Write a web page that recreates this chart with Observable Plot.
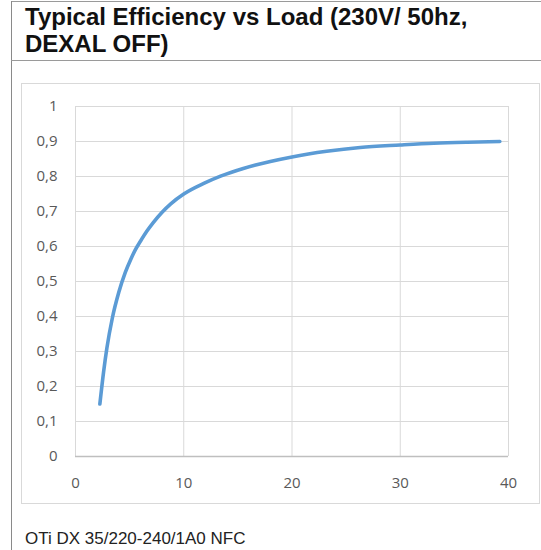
<!DOCTYPE html>
<html>
<head>
<meta charset="utf-8">
<script src="https://cdn.jsdelivr.net/npm/d3@7"></script>
<script src="https://cdn.jsdelivr.net/npm/@observablehq/plot@0.6"></script>
<style>
  body { margin: 0; background: #fff; }
  #page { position: relative; width: 541px; height: 550px; overflow: hidden; background: #fff; }
  #frameTop { position: absolute; left: 11px; right: 0; top: 1px; border-top: 1px solid #9a9a9a; }
  #frameLeft { position: absolute; left: 11px; top: 1px; bottom: 0; border-left: 1px solid #8a8a8a; }
  #sep { position: absolute; left: 11px; right: 0; top: 60px; border-top: 1px solid #9a9a9a; }
  #title { position: absolute; left: 25px; top: 3px; margin: 0; font: bold 24px/27px "Liberation Sans", Arial, sans-serif; color: #111; white-space: nowrap; }
  #box { position: absolute; left: 21px; top: 83px; width: 517px; height: 419px; border: 1px solid #d9d9d9; }
  #chart { position: absolute; left: 21px; top: 83px; }
  #caption { position: absolute; left: 25px; top: 529px; margin: 0; font: 17px/20px "Liberation Sans", Arial, sans-serif; color: #222; white-space: nowrap; }
</style>
</head>
<body>
<div id="page">
  <div id="frameTop"></div>
  <div id="frameLeft"></div>
  <div id="title">Typical Efficiency vs Load (230V/ 50hz,<br>DEXAL OFF)</div>
  <div id="sep"></div>
  <div id="box"></div>
  <div id="chart"></div>
  <div id="caption">OTi DX 35/220-240/1A0 NFC</div>
</div>
<script>
// Load (x) and efficiency (y)
const load = [2.25, 2.6, 2.9, 3.4, 4.0, 4.6, 5.1, 5.5, 6.0, 6.6, 7.2, 8.0, 8.8, 10.0, 11.9, 13.4, 15.5, 18.0, 20.0, 23.2, 26.3, 30.0, 33.1, 36.2, 39.2];
const efficiency = [0.15, 0.243, 0.31, 0.395, 0.469, 0.526, 0.563, 0.589, 0.615, 0.644, 0.669, 0.698, 0.722, 0.75, 0.781, 0.801, 0.823, 0.843, 0.856, 0.872, 0.883, 0.89, 0.895, 0.898, 0.9];
const xTicks = [0, 10, 20, 30, 40];
const yTicks = [0, 0.1, 0.2, 0.3, 0.4, 0.5, 0.6, 0.7, 0.8, 0.9, 1];

const data = load.map((x, i) => ({x, y: efficiency[i]}));
const locale = d3.formatLocale({decimal: ",", thousands: ".", grouping: [3], currency: ["", "€"]});
const fmt = locale.format("~g");

const chart = Plot.plot({
  width: 518,
  height: 420,
  marginLeft: 54,
  marginRight: 31,
  marginTop: 23,
  marginBottom: 47,
  style: {fontFamily: "'Open Sans', 'Liberation Sans', sans-serif", fontSize: "15px", color: "#595959", background: "none"},
  x: {domain: [0, 40]},
  y: {domain: [0, 1]},
  marks: [
    Plot.gridX(xTicks, {stroke: "#d9d9d9", strokeOpacity: 1, strokeWidth: 1}),
    Plot.gridY(yTicks, {stroke: "#d9d9d9", strokeOpacity: 1, strokeWidth: 1}),
    Plot.ruleY([0], {stroke: "#bfbfbf", strokeWidth: 1.5}),
    Plot.line(data, {x: "x", y: "y", stroke: "#5B9BD5", strokeWidth: 3.6, curve: "monotone-x", strokeLinecap: "round", strokeLinejoin: "round"}),
    Plot.axisX(xTicks, {tickSize: 0, tickPadding: 21, label: null, fill: "#595959"}),
    Plot.axisY(yTicks, {tickSize: 0, tickPadding: 18, label: null, tickFormat: fmt, fill: "#595959"})
  ]
});
document.getElementById("chart").appendChild(chart);
</script>
</body>
</html>
